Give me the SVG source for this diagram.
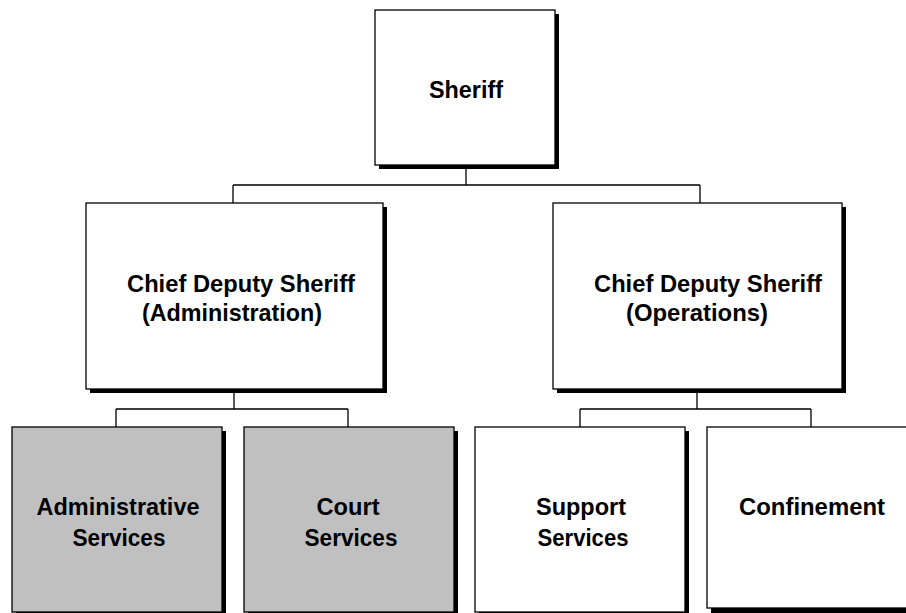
<svg xmlns="http://www.w3.org/2000/svg" width="906" height="613" viewBox="0 0 906 613">
<style>
.box{fill:#fff;stroke:#000;stroke-width:1.3}
.grey{fill:#c0c0c0}
.sh{fill:#000}
.t{font-family:"Liberation Sans",Arial,sans-serif;font-weight:bold;font-size:24px;fill:#000;text-anchor:middle}
.c{fill:none;stroke:#000;stroke-width:1.3}
</style>
<rect width="906" height="613" fill="#fff"/>
<g id="connectors">
<path class="c" d="M466 165V185M233 185H700M233 185V203M700 185V203"/>
<path class="c" d="M234 389V409M116 409H348M116 409V427M348 409V427"/>
<path class="c" d="M697 389V409M580 409H811M580 409V427M811 409V427"/>
</g>
<g id="sheriff">
<rect class="sh" x="379" y="14" width="180" height="155"/>
<rect class="box" x="375" y="10" width="180" height="155"/>
<text class="t" x="466" y="98" textLength="74" lengthAdjust="spacingAndGlyphs">Sheriff</text>
</g>
<g id="cds-admin">
<rect class="sh" x="90" y="207" width="297" height="186"/>
<rect class="box" x="86" y="203" width="297" height="186"/>
<text class="t" x="241" y="292" textLength="228" lengthAdjust="spacingAndGlyphs">Chief Deputy Sheriff</text>
<text class="t" x="232" y="321" textLength="180" lengthAdjust="spacingAndGlyphs">(Administration)</text>
</g>
<g id="cds-ops">
<rect class="sh" x="557" y="207" width="289" height="186"/>
<rect class="box" x="553" y="203" width="289" height="186"/>
<text class="t" x="708" y="292" textLength="228" lengthAdjust="spacingAndGlyphs">Chief Deputy Sheriff</text>
<text class="t" x="697" y="321" textLength="142" lengthAdjust="spacingAndGlyphs">(Operations)</text>
</g>
<g id="admin-services">
<rect class="sh" x="16" y="431" width="210" height="186"/>
<rect class="box grey" x="12" y="427" width="210" height="185"/>
<text class="t" x="118" y="515" textLength="163" lengthAdjust="spacingAndGlyphs">Administrative</text>
<text class="t" x="119" y="546" textLength="93" lengthAdjust="spacingAndGlyphs">Services</text>
</g>
<g id="court-services">
<rect class="sh" x="248" y="431" width="210" height="186"/>
<rect class="box grey" x="244" y="427" width="210" height="185"/>
<text class="t" x="348" y="515" textLength="63" lengthAdjust="spacingAndGlyphs">Court</text>
<text class="t" x="351" y="546" textLength="93" lengthAdjust="spacingAndGlyphs">Services</text>
</g>
<g id="support-services">
<rect class="sh" x="479" y="431" width="210" height="186"/>
<rect class="box" x="475" y="427" width="210" height="185"/>
<text class="t" x="581" y="515" textLength="90" lengthAdjust="spacingAndGlyphs">Support</text>
<text class="t" x="583" y="546" textLength="91" lengthAdjust="spacingAndGlyphs">Services</text>
</g>
<g id="confinement">
<rect class="sh" x="711" y="431" width="210" height="182"/>
<rect class="box" x="707" y="427" width="210" height="181"/>
<text class="t" x="812" y="515" textLength="146" lengthAdjust="spacingAndGlyphs">Confinement</text>
</g>
</svg>
